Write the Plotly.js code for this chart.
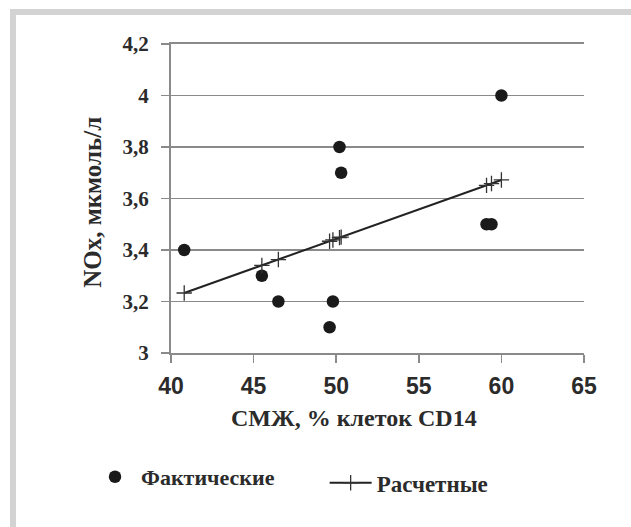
<!DOCTYPE html>
<html>
<head>
<meta charset="utf-8">
<script src="https://cdn.plot.ly/plotly-3.0.1.min.js"></script>
<style>
  html, body { margin: 0; padding: 0; background: #fff; }
  #wrap { position: relative; width: 631px; height: 527px; overflow: hidden; }
  #chart { width: 631px; height: 527px; }
  #frame { position: absolute; left: 10px; top: 9px; width: 640px; height: 540px;
           border-top: 6px solid #d3d3d3; border-left: 6px solid #d3d3d3; pointer-events: none; }
</style>
</head>
<body>
<div id="wrap">
  <div id="chart"></div>
  <div id="frame"></div>
</div>
<script>
// Data
var actualX = [40.8, 45.5, 46.5, 49.8, 49.6, 50.2, 50.3, 59.1, 59.4, 60.0];
var actualY = [3.4, 3.3, 3.2, 3.2, 3.1, 3.8, 3.7, 3.5, 3.5, 4.0];
var calcX = [40.8, 45.5, 46.5, 49.6, 49.8, 50.2, 50.3, 59.1, 59.4, 60.0];
var calcY = [3.233, 3.340, 3.363, 3.434, 3.439, 3.448, 3.450, 3.651, 3.658, 3.672];
var seriesNames = ['Фактические', 'Расчетные'];
var xTitle = 'СМЖ, % клеток CD14';
var yTitle = 'NOx, мкмоль/л';

var serif = '"Liberation Serif", "Times New Roman", serif';
var sans = '"Liberation Sans", Arial, sans-serif';
var txt = '#2b2b2b';
var gridC = '#8a8a8a';

var traces = [
  {
    x: actualX, y: actualY, type: 'scatter', mode: 'markers', name: seriesNames[0],
    marker: { symbol: 'circle', size: 12.5, color: '#1a1a1a' },
    legend: 'legend', cliponaxis: false
  },
  {
    x: calcX, y: calcY, type: 'scatter', mode: 'lines+markers', name: seriesNames[1],
    line: { color: '#222', width: 2 },
    marker: { symbol: 'cross-thin', size: 11, line: { color: '#333', width: 1.3 } },
    legend: 'legend2', cliponaxis: false
  }
];

var layout = {
  width: 631, height: 527,
  margin: { l: 171, r: 47, t: 44, b: 174 },
  paper_bgcolor: '#fff', plot_bgcolor: '#fff',
  separators: ', ',
  showlegend: true,
  xaxis: {
    range: [40, 65], dtick: 5, tick0: 40,
    showgrid: false, zeroline: false,
    showline: true, linecolor: gridC, linewidth: 2, mirror: true,
    ticks: 'outside', ticklen: 8, tickwidth: 1.5, tickcolor: gridC,
    ticklabelstandoff: 3,
    tickfont: { family: sans, size: 23, color: txt, weight: 'bold' },
    automargin: false, fixedrange: true
  },
  yaxis: {
    range: [3, 4.2], dtick: 0.2, tick0: 3,
    showgrid: true, gridcolor: gridC, gridwidth: 1.5, zeroline: false,
    showline: true, linecolor: gridC, linewidth: 2,
    ticks: 'outside', ticklen: 8, tickwidth: 1.5, tickcolor: gridC,
    ticklabelstandoff: 8,
    tickfont: { family: serif, size: 21, color: txt, weight: 'bold' },
    automargin: false, fixedrange: true
  },
  annotations: [
    { text: xTitle, xref: 'paper', yref: 'paper', x: 0.443, y: -0.210,
      xanchor: 'center', yanchor: 'middle', showarrow: false,
      font: { family: serif, size: 24, color: txt, weight: 'bold' } },
    { text: yTitle, xref: 'paper', yref: 'paper', x: -0.189, y: 0.489,
      xanchor: 'center', yanchor: 'middle', showarrow: false, textangle: -90,
      font: { family: serif, size: 25, color: txt, weight: 'bold' } }
  ],
  legend: {
    x: -0.1985, y: -0.401, xanchor: 'left', yanchor: 'middle',
    orientation: 'h', itemwidth: 42, bgcolor: 'rgba(0,0,0,0)',
    font: { family: serif, size: 22, color: txt, weight: 'bold' }
  },
  legend2: {
    x: 0.372, y: -0.42, xanchor: 'left', yanchor: 'middle',
    orientation: 'h', itemwidth: 42, bgcolor: 'rgba(0,0,0,0)',
    font: { family: serif, size: 23, color: txt, weight: 'bold' }
  },
  hovermode: false
};

Plotly.newPlot('chart', traces, layout, { displayModeBar: false, staticPlot: true });
</script>
</body>
</html>
